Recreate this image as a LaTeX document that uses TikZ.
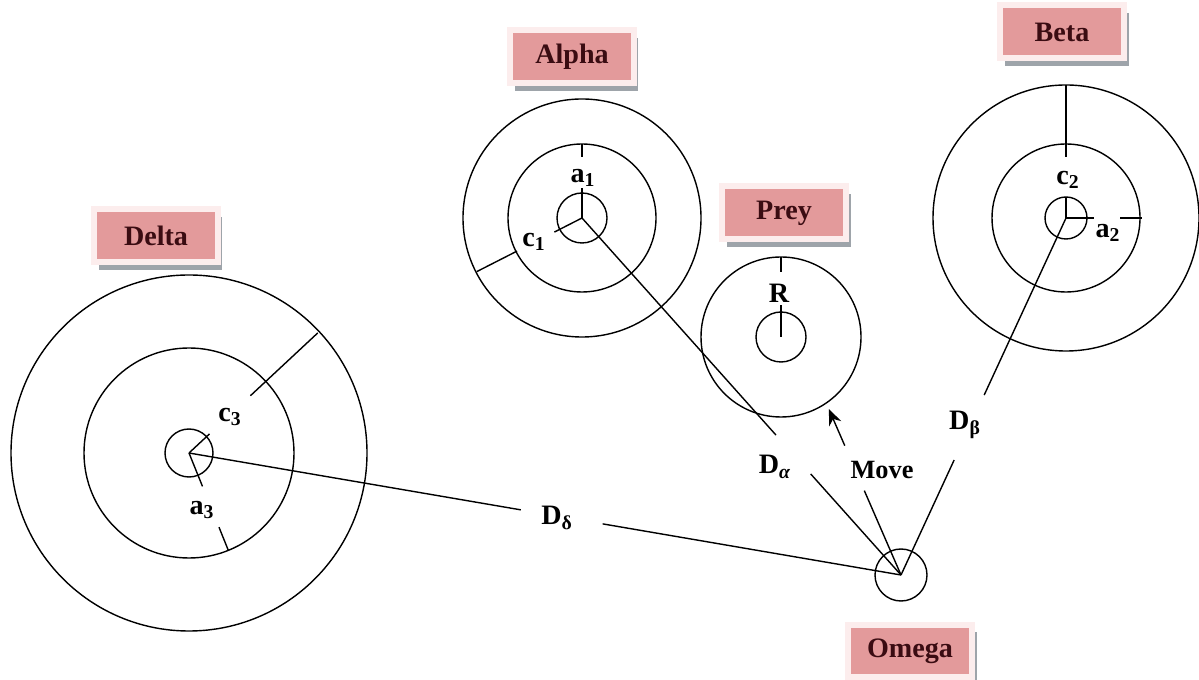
\documentclass[tikz,border=0pt]{standalone}
\usepackage{fontspec}
\setmainfont{Liberation Serif}
\usetikzlibrary{arrows.meta,calc,shadows}
\definecolor{tagpink}{HTML}{E39A9B}
\definecolor{tagrim}{HTML}{FCEDED}
\definecolor{tagshade}{HTML}{9EA4AA}
\definecolor{tagtext}{HTML}{3A0C12}
\tikzset{
  tag style/.style={rectangle, fill=tagpink, draw=tagrim, line width=0.12cm,
    minimum width=2.48cm, minimum height=1.06cm, text=tagtext,
    font=\fontsize{16}{19}\selectfont\bfseries,
    drop shadow={shadow xshift=0.09cm, shadow yshift=-0.15cm, fill=tagshade, opacity=1}},
  ring style/.style={line width=0.8pt},
  lbl style/.style={inner sep=0pt, font=\fontsize{16}{19}\selectfont\bfseries},
  arr style/.style={-{Stealth[length=3.2mm, width=2.6mm]}, line width=0.8pt}
}

\begin{document}
\begin{tikzpicture}[x=0.02cm, y=0.02cm, line width=0.8pt]
\useasboundingbox (0,0) rectangle (1199,679);
% centres of the hunters and the prey
\coordinate (alpha) at (582,461);
\coordinate (beta)  at (1066,461);
\coordinate (delta) at (189,226);
\coordinate (prey)  at (781,342);
\coordinate (omega) at (901,104);

% name tags
\node[tag style] (alpha-tag) at (572,622) {Alpha};
\node[tag style] (beta-tag)  at (1062,647) {Beta};
\node[tag style] (prey-tag)  at (784,466) {Prey};
\node[tag style] (delta-tag) at (156,443) {Delta};
\node[tag style] (omega-tag) at (910,28) {Omega};

% rings
\draw[ring style] (alpha) circle[radius=25] (alpha) circle[radius=74] (alpha) circle[radius=119];
\draw[ring style] (beta) circle[radius=21] (beta) circle[radius=74] (beta) circle[radius=133];
\draw[ring style] (delta) circle[radius=24] (delta) circle[radius=105] (delta) circle[radius=178];
\draw[ring style] (prey) circle[radius=25] (prey) circle[radius=80];
\draw[ring style] (omega) circle[radius=26];

% radii a and c
\draw (alpha) -- ++(90:30) ++(90:31) -- ++(90:13);
\node[lbl style] (a1) at (583,501) {a\textsubscript{1}};
\draw (alpha) -- ++(207:31) ++(207:42) -- ++(207:45);
\node[lbl style] (c1) at (534,437) {c\textsubscript{1}};

\draw (beta) -- ++(90:21) ++(90:40) -- ++(90:72);
\node[lbl style] (c2) at (1068,499) {c\textsubscript{2}};
\draw (beta) -- ++(0:28) ++(0:26) -- ++(0:22);
\node[lbl style] (a2) at (1108,446) {a\textsubscript{2}};

\draw (delta) -- ++(43:28) ++(43:56) -- ++(43:92);
\node[lbl style] (c3) at (230,262) {c\textsubscript{3}};
\draw (delta) -- ++(-68:36) ++(-68:44) -- ++(-68:25);
\node[lbl style] (a3) at (202,169) {a\textsubscript{3}};

\draw (prey) -- ++(90:32) ++(90:33) -- ++(90:15);
\node[lbl style] (r) at (779,386) {R};

% distances to omega
\draw (alpha) -- ($(alpha)!0.608!(omega)$);
\draw ($(alpha)!0.717!(omega)$) -- (omega);
\node[lbl style] (d-alpha) at (775,212) {D\textsubscript{\textit{α}}};

\draw (beta) -- ($(beta)!0.496!(omega)$);
\draw ($(beta)!0.678!(omega)$) -- (omega);
\node[lbl style] (d-beta) at (965,254) {D\textsubscript{β}};

\draw (delta) -- ($(delta)!0.466!(omega)$);
\draw ($(delta)!0.581!(omega)$) -- (omega);
\node[lbl style] (d-delta) at (557,161) {D\textsubscript{δ}};

% omega moves towards the prey
\draw (omega) -- ++(113.5:92);
\draw[arr style] ($(omega)+(113.5:141)$) -- ++(113.5:40);
\node[lbl style, font=\fontsize{15}{18}\selectfont\bfseries] (move) at (882,209) {Move};
\end{tikzpicture}
\end{document}
